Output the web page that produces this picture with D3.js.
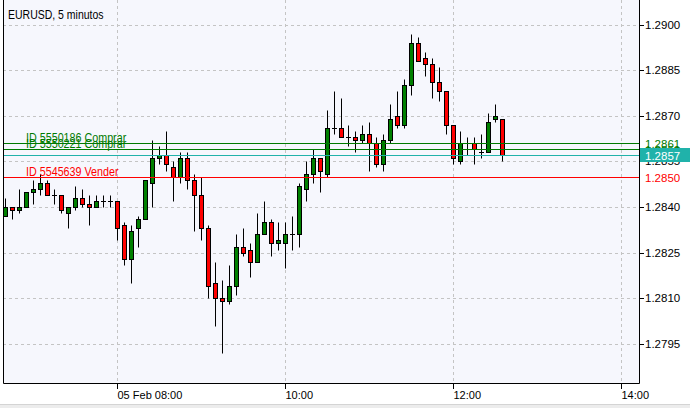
<!DOCTYPE html>
<meta charset="utf-8">
<style>
    body { margin: 0; background: #fff; }
    text { font-family: "Liberation Sans", Arial, sans-serif; }
</style>
<script src="https://d3js.org/d3.v7.min.js"></script>
<body>
<script>
    // EURUSD M5, first bar 06:40
    var startTime = new Date(2009, 1, 5, 6, 40);

    var opens = [
        1.2837, 1.2840, 1.2839, 1.2840, 1.2845, 1.2846, 1.2848, 1.2844, 1.2844, 1.2838, 1.2840, 1.2843, 1.2841, 1.2840, 1.2842, 1.2842,
        1.2842, 1.2834, 1.2823, 1.2833, 1.2836, 1.2848, 1.2856, 1.2857, 1.2853, 1.2850, 1.2856, 1.2849,
        1.2844, 1.2833, 1.2815, 1.2810, 1.2809, 1.2814, 1.2827, 1.2826, 1.2822, 1.2831, 1.2835, 1.2828,
        1.2828, 1.2831, 1.2831, 1.2846, 1.2851, 1.2856, 1.2851, 1.2866, 1.2866, 1.2863, 1.2863, 1.2862,
        1.2864, 1.2861, 1.2854, 1.2862, 1.2870, 1.2867, 1.2880, 1.2894, 1.2889, 1.2887, 1.2881, 1.2878,
        1.2867, 1.2855, 1.2861, 1.2861, 1.2858, 1.2858, 1.2869, 1.2869
    ];
    var highs = [
        1.2843, 1.2840, 1.2846, 1.2845, 1.2849, 1.2851, 1.2849, 1.2846, 1.2844, 1.2840, 1.2847, 1.2846, 1.2844, 1.2844, 1.2844, 1.2844,
        1.2842, 1.2835, 1.2834, 1.2837, 1.2849, 1.2862, 1.2860, 1.2865, 1.2855, 1.2858, 1.2858, 1.2851,
        1.2850, 1.2834, 1.2822, 1.2816, 1.2821, 1.2831, 1.2833, 1.2828, 1.2838, 1.2842, 1.2836, 1.2835,
        1.2835, 1.2837, 1.2848, 1.2855, 1.2859, 1.2856, 1.2872, 1.2878, 1.2876, 1.2867, 1.2865, 1.2867,
        1.2868, 1.2863, 1.2864, 1.2874, 1.2878, 1.2882, 1.2897, 1.2896, 1.2891, 1.2889, 1.2886, 1.2878,
        1.2867, 1.2865, 1.2863, 1.2863, 1.2864, 1.2871, 1.2874, 1.2869
    ];
    var lows = [
        1.2837, 1.2836, 1.2838, 1.2840, 1.2841, 1.2844, 1.2844, 1.2841, 1.2838, 1.2833, 1.2839, 1.2840, 1.2834, 1.2840, 1.2840, 1.2840,
        1.2829, 1.2821, 1.2815, 1.2827, 1.2836, 1.2840, 1.2854, 1.2852, 1.2842, 1.2848, 1.2846, 1.2832,
        1.2829, 1.2810, 1.2801, 1.2792, 1.2808, 1.2811, 1.2824, 1.2817, 1.2822, 1.2831, 1.2824, 1.2826,
        1.2820, 1.2826, 1.2827, 1.2842, 1.2848, 1.2845, 1.2850, 1.2864, 1.2863, 1.2860, 1.2858, 1.2861,
        1.2852, 1.2853, 1.2852, 1.2861, 1.2866, 1.2866, 1.2877, 1.2888, 1.2883, 1.2876, 1.2875, 1.2864,
        1.2854, 1.2854, 1.2857, 1.2854, 1.2856, 1.2858, 1.2868, 1.2855
    ];
    var closes = [
        1.2840, 1.2839, 1.2840, 1.2845, 1.2846, 1.2848, 1.2844, 1.2844, 1.2839, 1.2840, 1.2843, 1.2841, 1.2840, 1.2842, 1.2842, 1.2842,
        1.2833, 1.2823, 1.2832, 1.2836, 1.2849, 1.2856, 1.2857, 1.2854, 1.2850, 1.2856, 1.2849, 1.2844,
        1.2833, 1.2814, 1.2810, 1.2809, 1.2814, 1.2827, 1.2825, 1.2822, 1.2831, 1.2835, 1.2828, 1.2829,
        1.2831, 1.2831, 1.2847, 1.2851, 1.2856, 1.2852, 1.2866, 1.2866, 1.2863, 1.2863, 1.2862, 1.2864,
        1.2861, 1.2854, 1.2862, 1.2869, 1.2867, 1.2880, 1.2894, 1.2888, 1.2887, 1.2881, 1.2878, 1.2867,
        1.2856, 1.2861, 1.2861, 1.2859, 1.2858, 1.2868, 1.2870, 1.2857
    ];

    var priceTicks = [1.2795, 1.2810, 1.2825, 1.2840, 1.2855, 1.2870, 1.2885, 1.2900];
    var timeTicks = [new Date(2009, 1, 5, 8, 0), new Date(2009, 1, 5, 10, 0), new Date(2009, 1, 5, 12, 0), new Date(2009, 1, 5, 14, 0)];
    var timeLabels = ["05 Feb 08:00", "10:00", "12:00", "14:00"];

    var orderIds = ["5550186", "5550221", "5545639"];
    var orderTypes = ["Comprar", "Comprar", "Vender"];
    var orderPrices = [1.2861, 1.2859, 1.2850];
    var bidPrice = 1.2857;

    var title = "EURUSD, 5 minutos";

    var width = 690, height = 408;
    var plotLeft = 3, plotRight = 639, plotTop = 0, plotBottom = 383;

    var bars = opens.map(function(o, i) {
        return {
            time: new Date(startTime.getTime() + i * 5 * 60000),
            open: o, high: highs[i], low: lows[i], close: closes[i]
        };
    });

    var x = d3.scaleTime()
        .domain([timeTicks[0], timeTicks[3]])
        .range([117.5, 621.5]);

    var y = d3.scaleLinear()
        .domain([1.2795, 1.2900])
        .range([343.8, 24.6]);

    function py(p) { return Math.round(y(p)) + 0.5; }

    var svg = d3.select("body").append("svg")
        .attr("width", width)
        .attr("height", height);

    svg.append("rect").attr("width", width).attr("height", height).attr("fill", "#fff");
    svg.append("rect")
        .attr("x", plotLeft).attr("y", plotTop)
        .attr("width", plotRight - plotLeft).attr("height", plotBottom - plotTop)
        .attr("fill", "#f6f7fd");

    // status strip at the bottom
    svg.append("rect").attr("x", 0).attr("y", 404).attr("width", width).attr("height", 4).attr("fill", "#ececec");
    svg.append("line").attr("x1", 0).attr("x2", width).attr("y1", 404.5).attr("y2", 404.5).attr("stroke", "#d4d4d4");

    svg.append("clipPath").attr("id", "plot")
        .append("rect")
        .attr("x", plotLeft + 1).attr("y", plotTop)
        .attr("width", plotRight - plotLeft - 1).attr("height", plotBottom - plotTop);

    // grid
    var grid = svg.append("g").attr("clip-path", "url(#plot)");
    grid.selectAll("line.h")
        .data(priceTicks)
        .enter().append("line")
        .attr("x1", plotLeft).attr("x2", plotRight)
        .attr("y1", py).attr("y2", py)
        .attr("stroke", "#c4c4c4").attr("stroke-dasharray", "3,3");
    grid.selectAll("line.v")
        .data(timeTicks)
        .enter().append("line")
        .attr("x1", function(d) { return Math.floor(x(d)) + 0.5; })
        .attr("x2", function(d) { return Math.floor(x(d)) + 0.5; })
        .attr("y1", plotTop).attr("y2", plotBottom)
        .attr("stroke", "#c4c4c4").attr("stroke-dasharray", "3,3");

    // narrow text like the terminal font
    function narrow(sel, px, py_, sx) {
        return sel.attr("x", 0).attr("y", 0)
            .attr("transform", "translate(" + px + "," + py_ + ") scale(" + sx + ",1)");
    }

    narrow(svg.append("text"), 8, 19, 0.84)
        .attr("font-size", 12.5)
        .attr("fill", "#000")
        .text(title);

    // candles
    var candles = svg.append("g").attr("clip-path", "url(#plot)")
        .selectAll("g")
        .data(bars)
        .enter().append("g");

    candles.append("line")
        .attr("x1", function(d) { return Math.floor(x(d.time)) + 0.5; })
        .attr("x2", function(d) { return Math.floor(x(d.time)) + 0.5; })
        .attr("y1", function(d) { return py(d.high); })
        .attr("y2", function(d) { return py(d.low); })
        .attr("stroke", "#000");

    candles.each(function(d) {
        var g = d3.select(this);
        var cx = Math.floor(x(d.time));
        if (d.open === d.close) {
            g.append("line")
                .attr("x1", cx - 2).attr("x2", cx + 3)
                .attr("y1", py(d.open)).attr("y2", py(d.open))
                .attr("stroke", "#000");
        } else {
            var top = py(Math.max(d.open, d.close));
            var bot = py(Math.min(d.open, d.close));
            g.append("rect")
                .attr("x", cx - 1.5).attr("width", 4)
                .attr("y", top).attr("height", bot - top)
                .attr("fill", d.close > d.open ? "#008000" : "#ff0000")
                .attr("stroke", "#000");
        }
    });

    // order lines
    var orders = orderIds.map(function(id, i) {
        return { label: "ID " + id + " " + orderTypes[i], price: orderPrices[i],
                 color: orderTypes[i] === "Vender" ? "#ff0000" : "#007a00" };
    });

    svg.append("line")
        .attr("x1", plotLeft).attr("x2", plotRight)
        .attr("y1", py(bidPrice)).attr("y2", py(bidPrice))
        .attr("stroke", "#20b2aa").attr("shape-rendering", "crispEdges");

    var ol = svg.append("g").selectAll("g").data(orders).enter().append("g");
    ol.append("line")
        .attr("x1", plotLeft).attr("x2", plotRight)
        .attr("y1", function(d) { return py(d.price); })
        .attr("y2", function(d) { return py(d.price); })
        .attr("shape-rendering", "crispEdges")
        .attr("stroke", function(d) { return d.color; });
    ol.append("text")
        .each(function(d) { narrow(d3.select(this), 26, py(d.price) - 2, 0.86); })
        .attr("font-size", 12.5)
        .attr("fill", function(d) { return d.color; })
        .text(function(d) { return d.label; });

    // axes
    var yAxis = svg.append("g")
        .attr("transform", "translate(" + plotRight + ",0)")
        .call(d3.axisRight(y).tickValues(priceTicks).tickSize(5).tickPadding(1).tickFormat(d3.format(".4f")));
    yAxis.select(".domain").remove();
    yAxis.selectAll(".tick").attr("transform", function(d) { return "translate(0," + py(d) + ")"; });
    yAxis.selectAll("text").attr("font-size", 11.5).attr("font-family", null).attr("fill", "#000");
    yAxis.selectAll("line").attr("stroke", "#000");

    var xAxis = svg.append("g")
        .attr("transform", "translate(0," + plotBottom + ")")
        .call(d3.axisBottom(x).tickValues(timeTicks).tickSize(6)
            .tickFormat(function(d, i) { return timeLabels[i]; }));
    xAxis.select(".domain").remove();
    xAxis.selectAll(".tick").attr("transform", function(d) { return "translate(" + (Math.floor(x(d)) + 0.5) + ",0)"; });
    xAxis.selectAll("text")
        .attr("font-size", 11).attr("font-family", null).attr("fill", "#000")
        .attr("text-anchor", "start").attr("x", 0).attr("y", 8).attr("dy", "0.71em");
    xAxis.selectAll("line").attr("stroke", "#000");

    // frame
    svg.append("path")
        .attr("d", "M" + (plotLeft + 0.5) + "," + plotTop + "V" + (plotBottom + 0.5) + "H" + (plotRight + 0.5) + "V" + plotTop)
        .attr("fill", "none").attr("stroke", "#000");

    // price labels for order lines and bid
    svg.append("g").selectAll("text")
        .data(orders).enter().append("text")
        .attr("x", plotRight + 6)
        .attr("y", function(d) { return py(d.price); })
        .attr("dy", "0.35em")
        .attr("font-size", 11.5)
        .attr("fill", function(d) { return d.color; })
        .text(function(d) { return d3.format(".4f")(d.price); });

    svg.append("rect")
        .attr("x", plotRight + 1).attr("y", py(bidPrice) - 7.5)
        .attr("width", width - plotRight - 1).attr("height", 14)
        .attr("fill", "#20b2aa");
    svg.append("text")
        .attr("x", plotRight + 6).attr("y", py(bidPrice))
        .attr("dy", "0.35em")
        .attr("font-size", 11.5)
        .attr("fill", "#fff")
        .text(d3.format(".4f")(bidPrice));
</script>
